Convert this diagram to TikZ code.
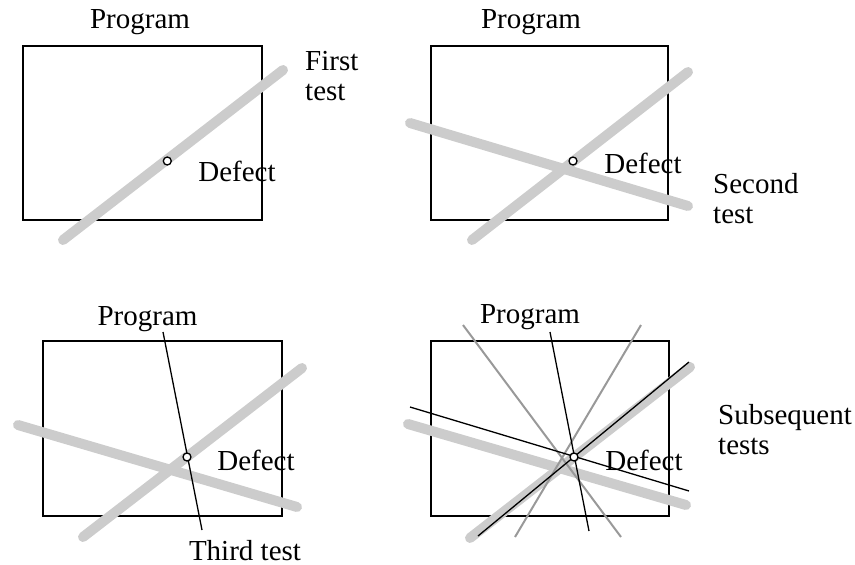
\documentclass[tikz,border=0pt]{standalone}
\usepackage{fontspec}
\setmainfont{Liberation Serif}
\definecolor{barcol}{HTML}{CCCCCC}
\definecolor{midgray}{HTML}{999999}
\tikzset{
  progbox/.style={draw=black, line width=1.3pt, inner sep=0pt, rectangle},
  testbar/.style={draw=barcol, line width=10pt, line cap=round},
  graytest/.style={draw=midgray, line width=2pt},
  thintest/.style={draw=black, line width=1.3pt},
  defectpt/.style={draw=black, fill=white, circle, line width=1.3pt, minimum size=8pt, inner sep=0pt},
  lbl/.style={font=\fontsize{29}{30}\selectfont, inner sep=0pt},
}
\begin{document}
\begin{tikzpicture}[x=1pt,y=-1pt]
\useasboundingbox (0,0) rectangle (855,565);
% ---------- Panel 1 ----------
\node[progbox, minimum width=239pt, minimum height=174pt] (r1) at (142.5,133) {};
\node[lbl, anchor=base] (p1) at (140,28) {Program};
\coordinate (a1) at (63,240);
\coordinate (b1) at (283,70);
\draw[testbar] (a1) -- (b1);
\node[defectpt] (d1) at (167.3,161) {};
\node[lbl, anchor=base] (f1) at (237,181) {Defect};
\node[lbl, anchor=base west, align=left] (t1) at (305,100) {First\\test};
% ---------- Panel 2 ----------
\node[progbox, minimum width=237pt, minimum height=174pt] (r2) at (549.5,133) {};
\node[lbl, anchor=base] (p2) at (531,28) {Program};
\coordinate (a2) at (472,240);
\coordinate (b2) at (688,72);
\coordinate (c2) at (410,123);
\coordinate (e2) at (688,206);
\draw[testbar] (a2) -- (b2);
\draw[testbar] (c2) -- (e2);
\node[defectpt] (d2) at (573,161) {};
\node[lbl, anchor=base] (f2) at (643,173) {Defect};
\node[lbl, anchor=base west, align=left] (t2) at (713,223) {Second\\test};
% ---------- Panel 3 ----------
\node[progbox, minimum width=239pt, minimum height=175pt] (r3) at (162.5,428.5) {};
\node[lbl, anchor=base] (p3) at (147.5,325) {Program};
\coordinate (a3) at (83,537);
\coordinate (b3) at (302,368);
\coordinate (c3) at (18,425);
\coordinate (e3) at (297,507);
\coordinate (g3) at (163,332);
\coordinate (h3) at (202,530);
\draw[testbar] (a3) -- (b3);
\draw[testbar] (c3) -- (e3);
\draw[thintest] (g3) -- (h3);
\node[defectpt] (d3) at (187,457) {};
\node[lbl, anchor=base] (f3) at (256,470) {Defect};
\node[lbl, anchor=base] (t3) at (245,560) {Third test};
% ---------- Panel 4 ----------
\node[progbox, minimum width=238pt, minimum height=175pt] (r4) at (550,428.5) {};
\node[lbl, anchor=base] (p4) at (530,323) {Program};
\coordinate (a4) at (470,538);
\coordinate (b4) at (690,367);
\coordinate (c4) at (408,424);
\coordinate (e4) at (686,505);
\draw[testbar] (a4) -- (b4);
\draw[testbar] (c4) -- (e4);
\coordinate (m1) at (463,325);
\coordinate (m2) at (621,537);
\coordinate (m3) at (641,325);
\coordinate (m4) at (515,537);
\draw[graytest] (m1) -- (m2);
\draw[graytest] (m3) -- (m4);
\coordinate (k1) at (550,332);
\coordinate (k2) at (589,531);
\coordinate (k3) at (478,536);
\coordinate (k4) at (689,362);
\coordinate (k5) at (410,407);
\coordinate (k6) at (689,491);
\draw[thintest] (k1) -- (k2);
\draw[thintest] (k3) -- (k4);
\draw[thintest] (k5) -- (k6);
\node[defectpt] (d4) at (574,457) {};
\node[lbl, anchor=base] (f4) at (644,470) {Defect};
\node[lbl, anchor=base west, align=left] (t4) at (718,454) {Subsequent\\tests};
\end{tikzpicture}
\end{document}
